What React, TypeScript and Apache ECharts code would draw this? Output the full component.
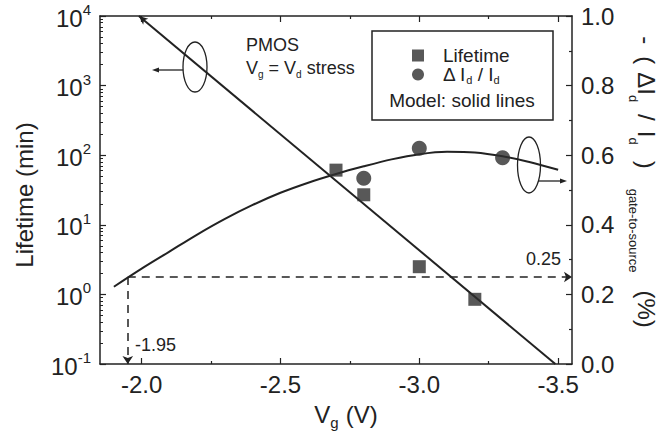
import React, { useEffect, useRef } from "react";
import * as echarts from "echarts";

// Measured lifetime (min) vs gate voltage
const vgLifetime = [-2.7, -2.8, -3.0, -3.2];
const lifetimeMin = [61, 27, 2.5, 0.85];
// Measured -(ΔId/Id) (%) vs gate voltage
const vgDeltaId = [-2.8, -3.0, -3.3];
const deltaIdPct = [0.534, 0.62, 0.593];
// Model lines
const modelLifetimeVg = [-1.99, -3.49];
const modelLifetime = [10000, 0.1];
const modelDeltaVg = [-1.9, -2.0, -2.1, -2.2, -2.3, -2.4, -2.5, -2.6, -2.7, -2.8, -2.9, -3.0, -3.1, -3.2, -3.3, -3.4, -3.5];
const modelDelta = [0.222, 0.274, 0.323, 0.372, 0.417, 0.457, 0.492, 0.521, 0.546, 0.568, 0.588, 0.603, 0.61, 0.608, 0.597, 0.58, 0.558];
// Guide lines
const guideVg = -1.95;
const guideDelta = 0.25;
// Axes
const xMin = -3.55;
const xMax = -1.85;
const xMajorTicks = [-2.0, -2.5, -3.0, -3.5];
const xMinorTicks = [-2.25, -2.75, -3.25];
const leftMinorFactors = [2, 3, 4, 5, 6, 7, 8, 9];
const leftDecadeExps = [-1, 0, 1, 2, 3];

const FONT = '"Liberation Sans", Arial, Helvetica, sans-serif';
const INK = "#222";

export default function App() {
  const ref = useRef<HTMLDivElement>(null);
  useEffect(() => {
    if (!ref.current) return;
    const chart = echarts.init(ref.current, undefined, { renderer: "svg" });

    const leftMinor: number[] = [];
    leftDecadeExps.forEach((e) => leftMinorFactors.forEach((f) => leftMinor.push(Math.log10(f) + e)));

    const xAxisBase = {
      type: "value",
      min: xMin,
      max: xMax,
      inverse: true,
      splitLine: { show: false },
    };

    const tMain = { fontFamily: FONT, fontSize: 24, lineHeight: 38, fill: INK };
    const tSub = { fontFamily: FONT, fontSize: 13, lineHeight: 38, verticalAlign: "bottom", fill: INK };

    const option: any = {
      animation: false,
      backgroundColor: "#fff",
      textStyle: { fontFamily: FONT, color: INK },
      grid: { left: 100, right: 95, top: 16, bottom: 69, containLabel: false },
      legend: {
        show: true,
        orient: "vertical",
        left: 407,
        top: 41,
        itemWidth: 12,
        itemHeight: 12,
        itemGap: 0,
        selectedMode: false,
        data: [
          { name: "Lifetime", icon: "rect" },
          { name: "ΔId/Id", icon: "circle" },
        ],
        formatter: (name: string) =>
          name === "Lifetime" ? "{m|Lifetime}" : "{m|Δ I}{s|d}{m| / I}{s|d}",
        textStyle: {
          fontFamily: FONT,
          color: INK,
          fontSize: 19,
          padding: [0, 0, 0, 14],
          rich: {
            m: { fontFamily: FONT, fontSize: 19, lineHeight: 22, color: INK },
            s: { fontFamily: FONT, fontSize: 11, lineHeight: 22, verticalAlign: "bottom", color: INK },
          },
        },
      },
      xAxis: [
        {
          ...xAxisBase,
          position: "bottom",
          axisLine: { show: true, onZero: false, lineStyle: { color: INK, width: 1.5 } },
          axisTick: { show: true, inside: true, length: 6, customValues: xMajorTicks, lineStyle: { color: INK, width: 1.2 } },
          axisLabel: {
            show: true,
            customValues: xMajorTicks,
            margin: 8,
            fontSize: 24,
            fontFamily: FONT,
            color: INK,
            formatter: (v: number) => v.toFixed(1),
          },
        },
        {
          ...xAxisBase,
          position: "bottom",
          axisLine: { show: false, onZero: false },
          axisTick: { show: true, inside: true, length: 3, customValues: xMinorTicks, lineStyle: { color: INK, width: 1.2 } },
          axisLabel: { show: false },
        },
        {
          ...xAxisBase,
          position: "top",
          axisLine: { show: true, onZero: false, lineStyle: { color: INK, width: 1.5 } },
          axisTick: { show: true, inside: true, length: 6, customValues: xMajorTicks, lineStyle: { color: INK, width: 1.2 } },
          axisLabel: { show: false },
        },
        {
          ...xAxisBase,
          position: "top",
          axisLine: { show: false, onZero: false },
          axisTick: { show: true, inside: true, length: 3, customValues: xMinorTicks, lineStyle: { color: INK, width: 1.2 } },
          axisLabel: { show: false },
        },
      ],
      yAxis: [
        {
          type: "log",
          logBase: 10,
          min: 0.1,
          max: 10000,
          splitNumber: 5,
          position: "left",
          splitLine: { show: false },
          axisLine: { show: true, onZero: false, lineStyle: { color: INK, width: 1.5 } },
          axisTick: { show: true, inside: true, length: 6, lineStyle: { color: INK, width: 1.2 } },
          axisLabel: {
            margin: 9,
            formatter: (v: number) => `{b|10}{s|${Math.round(Math.log10(v))}}`,
            rich: {
              b: { fontFamily: FONT, fontSize: 24, lineHeight: 28, verticalAlign: "bottom", color: INK },
              s: { fontFamily: FONT, fontSize: 15, lineHeight: 28, verticalAlign: "top", color: INK },
            },
          },
        },
        {
          type: "value",
          min: 0,
          max: 1,
          interval: 0.2,
          position: "right",
          splitLine: { show: false },
          axisLine: { show: true, onZero: false, lineStyle: { color: INK, width: 1.5 } },
          axisTick: { show: true, inside: true, length: 6, lineStyle: { color: INK, width: 1.2 } },
          minorTick: { show: true, splitNumber: 2, length: 3, lineStyle: { color: INK, width: 1.2 } },
          minorSplitLine: { show: false },
          axisLabel: {
            margin: 9,
            fontSize: 24,
            fontFamily: FONT,
            color: INK,
            formatter: (v: number) => v.toFixed(1),
          },
        },
        {
          type: "value",
          min: -1,
          max: 4,
          position: "left",
          splitLine: { show: false },
          axisLine: { show: false, onZero: false },
          axisTick: { show: true, inside: true, length: 3, customValues: leftMinor, lineStyle: { color: INK, width: 1 } },
          axisLabel: { show: false },
        },
      ],
      series: [
        {
          name: "Lifetime model",
          type: "line",
          xAxisIndex: 0,
          yAxisIndex: 0,
          showSymbol: true,
          symbol: "none",
          lineStyle: { color: INK, width: 2 },
          itemStyle: { color: INK },
          data: modelLifetimeVg.map((x, i) =>
            i === 0
              ? { value: [x, modelLifetime[i]], symbol: "arrow", symbolSize: [6, 9], symbolRotate: 50 }
              : { value: [x, modelLifetime[i]], symbol: "none" }
          ),
          z: 2,
        },
        {
          name: "ΔId/Id model",
          type: "line",
          xAxisIndex: 0,
          yAxisIndex: 1,
          smooth: 0.3,
          showSymbol: false,
          symbol: "none",
          lineStyle: { color: INK, width: 2 },
          data: modelDeltaVg.map((x, i) => [x, modelDelta[i]]),
          markLine: {
            silent: true,
            symbol: ["none", "arrow"],
            symbolSize: 8,
            label: { show: false },
            lineStyle: { color: INK, width: 1.5, type: [8, 6] },
            data: [
              [
                { coord: [guideVg, guideDelta] },
                { coord: [guideVg, 0] },
              ],
              [
                { coord: [guideVg, guideDelta] },
                { coord: [xMin, guideDelta] },
              ],
            ],
          },
          z: 2,
        },
        {
          name: "Lifetime",
          type: "scatter",
          xAxisIndex: 0,
          yAxisIndex: 0,
          symbol: "rect",
          symbolSize: 13,
          itemStyle: { color: "#2e2e2e" },
          data: vgLifetime.map((x, i) => [x, lifetimeMin[i]]),
          z: 3,
        },
        {
          name: "ΔId/Id",
          type: "scatter",
          xAxisIndex: 0,
          yAxisIndex: 1,
          symbol: "circle",
          symbolSize: 15,
          itemStyle: { color: "#2e2e2e" },
          data: vgDeltaId.map((x, i) => [x, deltaIdPct[i]]),
          z: 3,
        },
      ],
      graphic: [
        // legend box
        { type: "rect", shape: { x: 372, y: 31, width: 181, height: 89 }, style: { fill: "none", stroke: INK, lineWidth: 1.5 }, z: 10 },
        { type: "text", x: 462, y: 100, style: { text: "Model: solid lines", fontFamily: FONT, fontSize: 19, fill: INK, align: "center", verticalAlign: "middle" }, z: 10 },
        // annotations
        { type: "text", x: 246, y: 45, style: { text: "PMOS", fontFamily: FONT, fontSize: 18, fill: INK, align: "left", verticalAlign: "middle" }, z: 10 },
        {
          type: "text", x: 246, y: 68,
          style: {
            text: "{m|V}{s|g}{m| = V}{s|d}{m| stress}",
            align: "left", verticalAlign: "middle",
            rich: {
              m: { fontFamily: FONT, fontSize: 18, lineHeight: 22, fill: INK },
              s: { fontFamily: FONT, fontSize: 10, lineHeight: 22, verticalAlign: "bottom", fill: INK },
            },
          },
          z: 10,
        },
        { type: "text", x: 135, y: 345, style: { text: "-1.95", fontFamily: FONT, fontSize: 18, fill: INK, align: "left", verticalAlign: "middle" }, z: 10 },
        { type: "text", x: 561, y: 259, style: { text: "0.25", fontFamily: FONT, fontSize: 18, fill: INK, align: "right", verticalAlign: "middle" }, z: 10 },
        // left ellipse + arrow
        { type: "ellipse", shape: { cx: 195, cy: 67, rx: 12, ry: 25 }, style: { fill: "none", stroke: INK, lineWidth: 1.3 }, z: 10 },
        { type: "line", shape: { x1: 183, y1: 70, x2: 157, y2: 70 }, style: { stroke: INK, lineWidth: 1.3 }, z: 10 },
        { type: "polygon", shape: { points: [[152, 70], [159, 67.5], [159, 72.5]] }, style: { fill: INK }, z: 10 },
        // right ellipse + arrow
        { type: "ellipse", shape: { cx: 529, cy: 165, rx: 11.5, ry: 28 }, style: { fill: "none", stroke: INK, lineWidth: 1.3 }, z: 10 },
        { type: "line", shape: { x1: 538, y1: 181, x2: 562, y2: 181 }, style: { stroke: INK, lineWidth: 1.3 }, z: 10 },
        { type: "polygon", shape: { points: [[567, 181], [560, 178.5], [560, 183.5]] }, style: { fill: INK }, z: 10 },
        // axis titles
        { type: "text", x: 24, y: 195, rotation: Math.PI / 2, style: { text: "Lifetime (min)", fontFamily: FONT, fontSize: 24, fill: INK, align: "center", verticalAlign: "middle" }, z: 10 },
        {
          type: "text", x: 346, y: 414,
          style: {
            text: "{m|V}{s|g}{m|(V)}",
            align: "center", verticalAlign: "middle",
            rich: {
              m: { fontFamily: FONT, fontSize: 24, lineHeight: 32, fill: INK, padding: [0, 0, 0, 0] },
              s: { fontFamily: FONT, fontSize: 15, lineHeight: 32, verticalAlign: "bottom", fill: INK, padding: [0, 7, 0, 0] },
            },
          },
          z: 10,
        },
        {
          type: "text", x: 646, y: 182, rotation: -Math.PI / 2,
          style: {
            text: "{m|-}{a|(}{b|ΔI}{s|d}{a|/}{c|I}{s|d}{e|)}{g|gate-to-source}{p|(%)}",
            align: "center", verticalAlign: "middle",
            rich: {
              m: tMain,
              a: { ...tMain, padding: [0, 0, 0, 12] },
              b: { ...tMain, padding: [0, 0, 0, 8] },
              c: { ...tMain, padding: [0, 0, 0, 10] },
              e: { ...tMain, padding: [0, 0, 0, 16] },
              s: tSub,
              g: { ...tSub, padding: [0, 0, 0, 20] },
              p: { ...tMain, padding: [0, 0, 0, 18] },
            },
          },
          z: 10,
        },
      ],
    };

    chart.setOption(option);
    return () => chart.dispose();
  }, []);

  return (
    <div
      ref={ref}
      style={{ position: "fixed", left: 0, top: 0, width: 667, height: 433, background: "#fff" }}
    />
  );
}
